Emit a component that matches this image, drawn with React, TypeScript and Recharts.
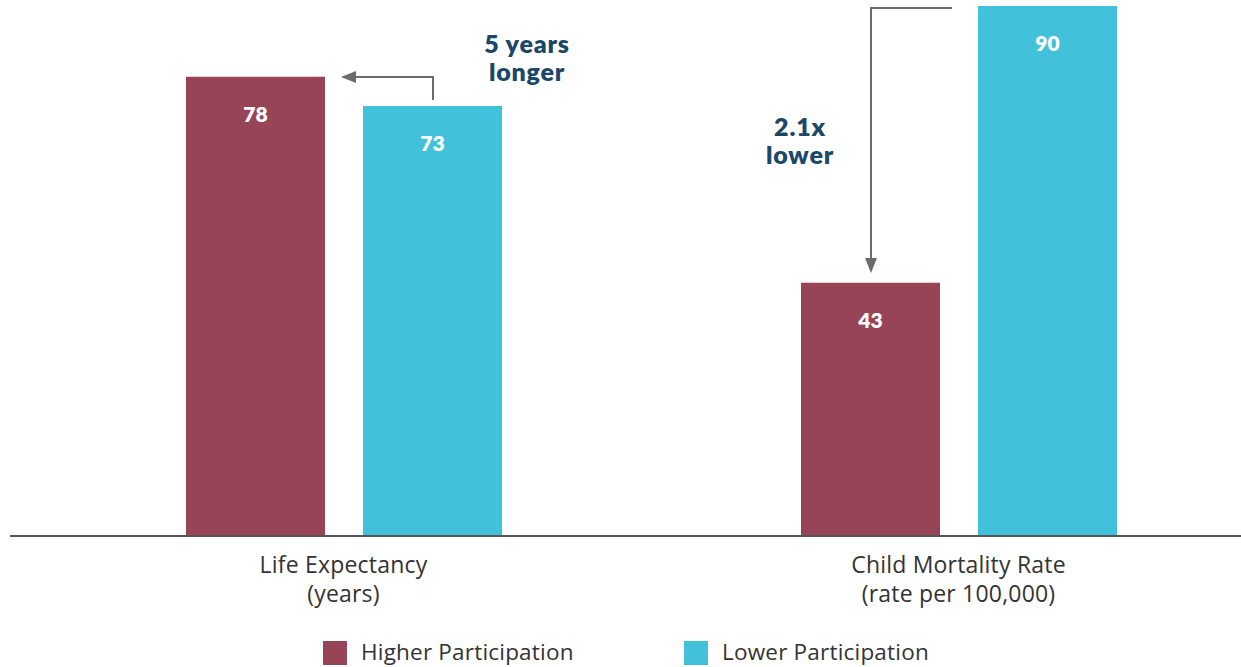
import { BarChart, Bar, XAxis, YAxis, LabelList, Legend } from "recharts";

// chart values
const categories = ["Life Expectancy", "Child Mortality Rate"];
const units = ["(years)", "(rate per 100,000)"];
const higherParticipation = [78, 43];
const lowerParticipation = [73, 90];

const HIGHER = "#974456";
const LOWER = "#41C2DA";
const NAVY = "#1B4768";
const ARROW = "#6b6b6b";
const FONT = "Lato, 'Open Sans', sans-serif";
const TEXT_FONT = "'Open Sans', Lato, sans-serif";

const data = categories.map((name, i) => ({
  name,
  unit: units[i],
  higher: higherParticipation[i],
  lower: lowerParticipation[i],
}));

const CategoryTick = ({ x, y, payload, index }: any) => (
  <text x={x} y={y} textAnchor="middle" fill="#333" fontSize={23} letterSpacing={0.2} fontFamily={TEXT_FONT}>
    <tspan x={x} dy={29}>{payload.value}</tspan>
    <tspan x={x} dy={29}>{units[index]}</tspan>
  </text>
);

const LegendContent = () => (
  <div style={{ position: "relative", height: 28, fontFamily: TEXT_FONT, fontSize: 22.5, letterSpacing: 0.2, color: "#333" }}>
    <div style={{ position: "absolute", left: 323, top: 4, width: 24, height: 24, background: HIGHER }} />
    <span style={{ position: "absolute", left: 361, top: 2, lineHeight: "26px" }}>Higher Participation</span>
    <div style={{ position: "absolute", left: 684, top: 4, width: 24, height: 24, background: LOWER }} />
    <span style={{ position: "absolute", left: 722, top: 2, lineHeight: "26px" }}>Lower Participation</span>
  </div>
);

const Annotations = () => (
  <g>
    <polyline points="433,100 433,77 352,77" fill="none" stroke={ARROW} strokeWidth={2} />
    <polygon points="341,77 356,71 356,83" fill={ARROW} />
    <text textAnchor="middle" fill={NAVY} fontSize={25} fontWeight={800} fontFamily={FONT} letterSpacing={0.8}>
      <tspan x={527} y={53}>5 years</tspan>
      <tspan x={527} y={81}>longer</tspan>
    </text>

    <polyline points="952,8 871,8 871,262" fill="none" stroke={ARROW} strokeWidth={2} />
    <polygon points="871,273 865,258 877,258" fill={ARROW} />
    <text textAnchor="middle" fill={NAVY} fontSize={25} fontWeight={800} fontFamily={FONT} letterSpacing={0.8}>
      <tspan x={800} y={136}>2.1x</tspan>
      <tspan x={800} y={164}>lower</tspan>
    </text>
  </g>
);

const valueLabel = { fill: "#fff", fontSize: 21, fontWeight: 800, fontFamily: FONT };

export default function App() {
  return (
    <div style={{ position: "absolute", left: 0, top: 0, width: 1241, height: 667, overflow: "hidden", background: "#fff" }}>
      <BarChart
        width={1300}
        height={667}
        data={data}
        margin={{ top: 6, right: 34, left: 10, bottom: 0 }}
        barSize={139}
        barGap={38}
      >
        <XAxis
          dataKey="name"
          height={131}
          padding={{ left: 26, right: 0 }}
          axisLine={{ stroke: "#555", strokeWidth: 2 }}
          tickLine={false}
          tick={<CategoryTick />}
          interval={0}
        />
        <YAxis hide domain={[0, 90]} />
        <Legend
          verticalAlign="middle"
          content={<LegendContent />}
          wrapperStyle={{ top: 637, left: 0, width: 1241 }}
        />
        <Bar dataKey="higher" name="Higher Participation" fill={HIGHER} isAnimationActive={false}>
          <LabelList dataKey="higher" position="insideTop" offset={30} style={valueLabel} />
        </Bar>
        <Bar dataKey="lower" name="Lower Participation" fill={LOWER} isAnimationActive={false}>
          <LabelList dataKey="lower" position="insideTop" offset={30} style={valueLabel} />
        </Bar>
        <Annotations />
      </BarChart>
    </div>
  );
}
